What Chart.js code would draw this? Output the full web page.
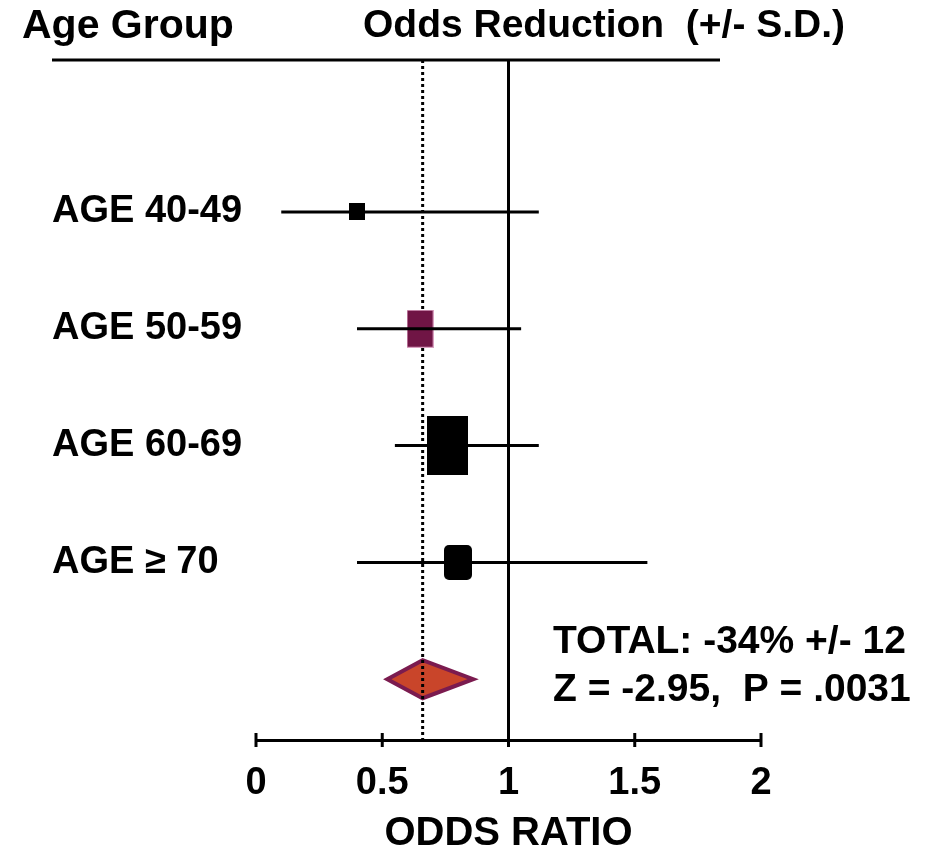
<!DOCTYPE html>
<html>
<head>
<meta charset="utf-8">
<script src="https://cdn.jsdelivr.net/npm/chart.js@4/dist/chart.umd.min.js"></script>
<style>
  body { margin: 0; background: #fff; }
  #wrap { width: 925px; height: 846px; }
</style>
</head>
<body>
<div id="wrap"><canvas id="chart"></canvas></div>
<script>
const rowLabels = ["AGE 40-49", "AGE 50-59", "AGE 60-69", "AGE \u2265 70"];
const lowCI = [0.10, 0.40, 0.55, 0.40];
const oddsRatio = [0.40, 0.65, 0.76, 0.80];
const highCI = [1.12, 1.05, 1.12, 1.55];
const totalOR = 0.66;
const totalLow = 0.52;
const totalHigh = 0.86;
const xTicks = [0, 0.5, 1, 1.5, 2];
const totalText = ["TOTAL: -34% +/- 12", "Z = -2.95,  P = .0031"];

// box look (size ~ weight of each group)
const boxW = [16, 27, 41, 28];
const boxH = [17, 38, 59, 35];
const boxColor = ["#000000", "#701545", "#000000", "#000000"];
const boxRound = [0, 0, 0, 5];

const FONT = "'Liberation Sans', Arial, sans-serif";

function makeBox(i) {
	const c = document.createElement("canvas");
	c.width = boxW[i];
	c.height = boxH[i];
	const g = c.getContext("2d");
	g.fillStyle = boxColor[i];
	g.beginPath();
	if (boxRound[i] > 0) {
		g.roundRect(0, 0, boxW[i], boxH[i], boxRound[i]);
	} else {
		g.rect(0, 0, boxW[i], boxH[i]);
	}
	g.fill();
	if (i === 1) {
		g.strokeStyle = "#d9a0c0";
		g.lineWidth = 1;
		g.strokeRect(0.5, 0.5, boxW[i] - 1, boxH[i] - 1);
	}
	return c;
}

const datasets = [];
for (let i = 0; i < rowLabels.length; i++) {
	datasets.push({
		type: "line",
		data: [{ x: lowCI[i], y: i + 1 }, { x: highCI[i], y: i + 1 }],
		borderColor: "#000",
		borderWidth: 3,
		pointRadius: 0,
		showLine: true,
	});
}
datasets.push({
	type: "scatter",
	data: oddsRatio.map((v, i) => ({ x: v, y: i + 1 })),
	pointStyle: rowLabels.map((l, i) => makeBox(i)),
	pointRadius: 10,
});

const forestPlugin = {
	id: "forest",
	beforeDatasetsDraw(chart) {
		const ctx = chart.ctx;
		const x = chart.scales.x;
		const y = chart.scales.y;
		const top = chart.chartArea.top;
		const bottom = chart.chartArea.bottom;

		// pooled diamond
		const yc = y.getPixelForValue(5);
		ctx.save();
		ctx.beginPath();
		ctx.moveTo(x.getPixelForValue(totalLow), yc);
		ctx.lineTo(x.getPixelForValue(totalOR), yc - 19);
		ctx.lineTo(x.getPixelForValue(totalHigh), yc);
		ctx.lineTo(x.getPixelForValue(totalOR), yc + 19);
		ctx.closePath();
		ctx.fillStyle = "#c9452a";
		ctx.fill();
		ctx.strokeStyle = "#7b1b4f";
		ctx.lineWidth = 4;
		ctx.stroke();

		// reference lines
		ctx.strokeStyle = "#000";
		ctx.lineWidth = 3;
		ctx.beginPath();
		ctx.moveTo(x.getPixelForValue(1), top);
		ctx.lineTo(x.getPixelForValue(1), bottom);
		ctx.stroke();
		ctx.setLineDash([3, 3]);
		ctx.beginPath();
		ctx.moveTo(x.getPixelForValue(totalOR), top);
		ctx.lineTo(x.getPixelForValue(totalOR), bottom);
		ctx.stroke();
		ctx.restore();
	},
	afterDraw(chart) {
		const ctx = chart.ctx;
		const x = chart.scales.x;
		const axisY = chart.chartArea.bottom;
		ctx.save();
		ctx.strokeStyle = "#000";
		ctx.lineWidth = 3;
		// tick marks across the axis
		x.ticks.forEach((t) => {
			const px = x.getPixelForValue(t.value);
			ctx.beginPath();
			ctx.moveTo(px, axisY - 7);
			ctx.lineTo(px, axisY + 7);
			ctx.stroke();
		});
		// header rule
		ctx.beginPath();
		ctx.moveTo(52, chart.chartArea.top);
		ctx.lineTo(720, chart.chartArea.top);
		ctx.stroke();

		ctx.fillStyle = "#000";
		ctx.textBaseline = "alphabetic";
		ctx.textAlign = "left";
		ctx.font = "bold 41px " + FONT;
		ctx.fillText("Age Group", 22, 38);
		ctx.font = "bold 39px " + FONT;
		ctx.fillText("Odds Reduction  (+/- S.D.)", 363, 37);

		ctx.font = "bold 39px " + FONT;
		ctx.fillText(totalText[0], 553, 653);
		ctx.fillText(totalText[1], 553, 701);
		ctx.restore();
	},
};

const theChart = new Chart(document.getElementById("chart"), {
	type: "scatter",
	data: { datasets: datasets },
	plugins: [forestPlugin],
	options: {
		responsive: true,
		maintainAspectRatio: false,
		animation: false,
		layout: {
			padding: { left: 52, right: 164, top: 60, bottom: 0 },
		},
		plugins: {
			legend: { display: false },
			tooltip: { enabled: false },
		},
		scales: {
			x: {
				type: "linear",
				min: 0,
				max: 2,
				afterBuildTicks: (s) => {
					s.ticks = xTicks.map((v) => ({ value: v }));
				},
				afterFit: (s) => {
					s.height = 106;
				},
				grid: { display: false, drawTicks: false },
				border: { display: true, color: "#000", width: 3 },
				ticks: {
					color: "#000",
					padding: 21,
					maxRotation: 0,
					font: { family: FONT, size: 38, weight: "bold", lineHeight: 1.2 },
					callback: (v) => String(v),
				},
				title: {
					display: true,
					text: "ODDS RATIO",
					color: "#000",
					padding: { top: 0, bottom: 0 },
					font: { family: FONT, size: 40, weight: "bold", lineHeight: 0.6 },
				},
			},
			y: {
				type: "linear",
				reverse: true,
				min: -0.3,
				max: 5.52,
				afterBuildTicks: (s) => {
					s.ticks = rowLabels.map((l, i) => ({ value: i + 1 }));
				},
				afterFit: (s) => {
					s.width = 204;
				},
				grid: { display: false, drawTicks: false },
				border: { display: false },
				ticks: {
					color: "#000",
					crossAlign: "far",
					font: { family: FONT, size: 38, weight: "bold" },
					callback: (v) => rowLabels[v - 1] || "",
				},
			},
		},
	},
});
</script>
</body>
</html>
